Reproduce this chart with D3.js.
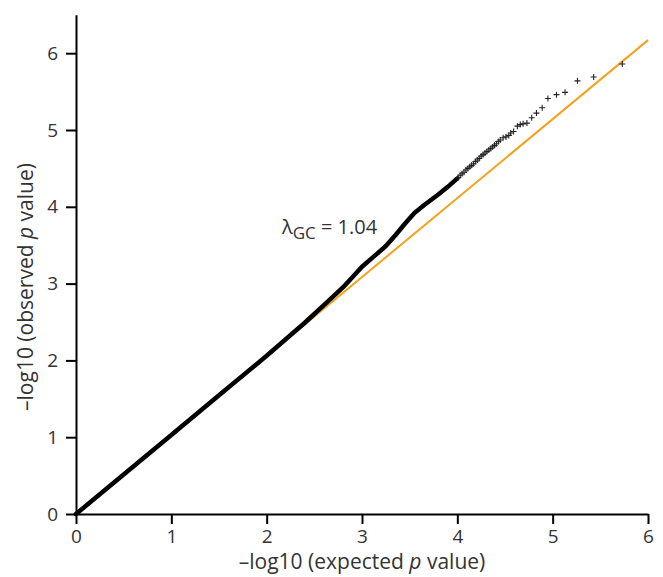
<!DOCTYPE html>
<html>
<head>
<meta charset="utf-8">
<script src="https://cdn.jsdelivr.net/npm/d3@7"></script>
<style>
  body { margin: 0; background: #fff; }
  text { font-family: "Open Sans", "Noto Sans", sans-serif; fill: #333; }
</style>
</head>
<body>
<div id="chart"></div>
<script>
// dense part of the QQ curve (expected, observed)
var denseExpected = [0, 0.5, 1, 1.5, 2, 2.4, 2.6, 2.8, 3.0, 3.15, 3.25, 3.35, 3.45, 3.55, 3.65, 3.8, 3.9, 4.0];
var denseObserved = [0, 0.515, 1.03, 1.545, 2.06, 2.49, 2.72, 2.95, 3.22, 3.38, 3.49, 3.63, 3.78, 3.92, 4.02, 4.16, 4.26, 4.37];

// sparse tail drawn as crosses
var tailExpected = [4.01, 4.03, 4.05, 4.07, 4.09, 4.11, 4.13, 4.15, 4.17, 4.19, 4.21, 4.23, 4.25, 4.27, 4.29, 4.31, 4.33, 4.35, 4.37, 4.39, 4.41, 4.43, 4.45, 4.48, 4.51, 4.54, 4.56, 4.59, 4.63, 4.66, 4.69, 4.73, 4.78, 4.83, 4.89, 4.95, 5.04, 5.13, 5.26, 5.43, 5.73];
var tailObserved = [4.38, 4.41, 4.43, 4.45, 4.48, 4.50, 4.52, 4.54, 4.56, 4.59, 4.61, 4.63, 4.66, 4.68, 4.70, 4.72, 4.74, 4.76, 4.78, 4.80, 4.82, 4.85, 4.87, 4.90, 4.91, 4.93, 4.96, 4.98, 5.05, 5.07, 5.08, 5.09, 5.16, 5.22, 5.29, 5.41, 5.46, 5.49, 5.64, 5.69, 5.86];

// reference line end points
var refExpected = [0, 6];
var refObserved = [0, 6.17];

var xTicks = [0, 1, 2, 3, 4, 5, 6];
var yTicks = [0, 1, 2, 3, 4, 5, 6];
var lambdaLabel = "1.04";

var width = 663, height = 577;

var svg = d3.select("#chart").append("svg")
  .attr("width", width)
  .attr("height", height);

var x = d3.scaleLinear().domain([0, 6]).range([76, 648]);
var y = d3.scaleLinear().domain([0, 6.5]).range([514, 14.8]);

var line = d3.line().x(function(d){ return x(d[0]); }).y(function(d){ return y(d[1]); });

// reference line
svg.append("path")
  .datum(refExpected.map(function(v, i){ return [v, refObserved[i]]; }))
  .attr("d", line)
  .attr("fill", "none")
  .attr("stroke", "#f4a21c")
  .attr("stroke-width", 2);

// dense band of points
svg.append("path")
  .datum(denseExpected.map(function(v, i){ return [v, denseObserved[i]]; }))
  .attr("d", line)
  .attr("fill", "none")
  .attr("stroke", "#000")
  .attr("stroke-width", 4.5)
  .attr("stroke-linecap", "round")
  .attr("stroke-linejoin", "round");

// crosses for the tail
svg.append("g").selectAll("path")
  .data(tailExpected.map(function(v, i){ return [v, tailObserved[i]]; }))
  .enter().append("path")
  .attr("transform", function(d){ return "translate(" + x(d[0]) + "," + y(d[1]) + ")"; })
  .attr("d", "M-3,0H3M0,-3V3")
  .attr("stroke", "#222")
  .attr("stroke-width", 1.1)
  .attr("fill", "none");

// axes
var xAxis = svg.append("g")
  .attr("transform", "translate(0,514)")
  .call(d3.axisBottom(x).tickValues(xTicks).tickSize(10).tickSizeOuter(0).tickPadding(6).tickFormat(d3.format("d")));
var yAxis = svg.append("g")
  .attr("transform", "translate(76,0)")
  .call(d3.axisLeft(y).tickValues(yTicks).tickSize(10).tickSizeOuter(0).tickPadding(8).tickFormat(d3.format("d")));

[xAxis, yAxis].forEach(function(g){
  g.select(".domain").attr("stroke", "#000").attr("stroke-width", 2);
  g.selectAll(".tick line").attr("stroke", "#000").attr("stroke-width", 2);
  g.selectAll(".tick text").style("font-size", "19px").attr("fill", "#333");
});

// axis titles
var xt = svg.append("text")
  .attr("x", 362).attr("y", 569)
  .attr("text-anchor", "middle")
  .style("font-size", "21px");
xt.append("tspan").text("\u2013log10 (expected ");
xt.append("tspan").style("font-style", "italic").text("p");
xt.append("tspan").text(" value)");

var yt = svg.append("text")
  .attr("transform", "translate(33,287) rotate(-90)")
  .attr("text-anchor", "middle")
  .style("font-size", "21px");
yt.append("tspan").text("\u2013log10 (observed ");
yt.append("tspan").style("font-style", "italic").text("p");
yt.append("tspan").text(" value)");

// lambda annotation
var lt = svg.append("text")
  .attr("x", 282).attr("y", 234)
  .style("font-size", "20px");
lt.append("tspan").text("\u03bb");
lt.append("tspan").attr("dy", 5).style("font-size", "17px").text("GC");
lt.append("tspan").attr("dy", -5).text(" = " + lambdaLabel);
</script>
</body>
</html>
